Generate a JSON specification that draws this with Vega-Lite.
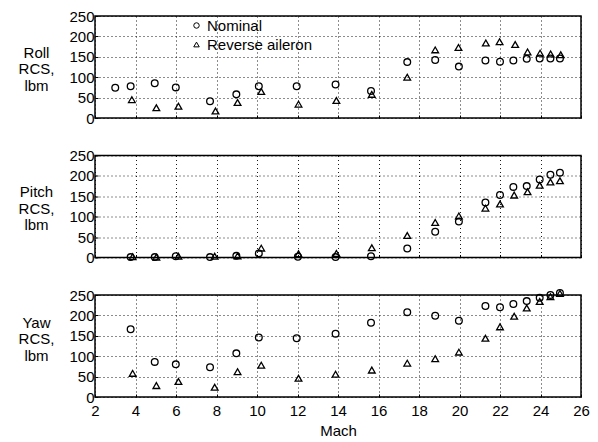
{
  "$schema": "https://vega.github.io/schema/vega-lite/v6.json",
  "padding": {"left": 17, "top": 8, "right": 5, "bottom": 5},
  "background": "white",
  "config": {
    "font": "Liberation Sans",
    "view": {"stroke": "black", "strokeWidth": 1.5},
    "axis": {
      "domain": false,
      "labelColor": "black",
      "labelFontSize": 15,
      "labelFont": "Liberation Sans",
      "titleFont": "Liberation Sans",
      "titleColor": "black",
      "titleFontSize": 15,
      "titleFontWeight": "normal",
      "gridColor": "black",
      "gridDash": [1, 3],
      "gridOpacity": 0.9,
      "gridWidth": 1,
      "tickColor": "black",
      "tickSize": -3,
      "labelFlush": false,
      "labelOverlap": false,
      "labelBound": false
    }
  },
  "datasets": {
    "rcs": [
      {"panel": "Roll", "series": "Nominal", "mach": 3.0, "rcs": 74},
      {"panel": "Roll", "series": "Nominal", "mach": 3.76, "rcs": 78},
      {"panel": "Roll", "series": "Nominal", "mach": 4.95, "rcs": 85},
      {"panel": "Roll", "series": "Nominal", "mach": 5.99, "rcs": 75},
      {"panel": "Roll", "series": "Nominal", "mach": 7.68, "rcs": 41},
      {"panel": "Roll", "series": "Nominal", "mach": 8.98, "rcs": 58},
      {"panel": "Roll", "series": "Nominal", "mach": 10.09, "rcs": 78},
      {"panel": "Roll", "series": "Nominal", "mach": 11.96, "rcs": 78},
      {"panel": "Roll", "series": "Nominal", "mach": 13.88, "rcs": 82},
      {"panel": "Roll", "series": "Nominal", "mach": 15.63, "rcs": 66},
      {"panel": "Roll", "series": "Nominal", "mach": 17.42, "rcs": 137},
      {"panel": "Roll", "series": "Nominal", "mach": 18.8, "rcs": 142},
      {"panel": "Roll", "series": "Nominal", "mach": 19.97, "rcs": 126},
      {"panel": "Roll", "series": "Nominal", "mach": 21.28, "rcs": 141},
      {"panel": "Roll", "series": "Nominal", "mach": 22.0, "rcs": 138},
      {"panel": "Roll", "series": "Nominal", "mach": 22.66, "rcs": 141},
      {"panel": "Roll", "series": "Nominal", "mach": 23.32, "rcs": 145},
      {"panel": "Roll", "series": "Nominal", "mach": 23.96, "rcs": 146},
      {"panel": "Roll", "series": "Nominal", "mach": 24.49, "rcs": 146},
      {"panel": "Roll", "series": "Nominal", "mach": 24.96, "rcs": 146},
      {"panel": "Roll", "series": "Reverse aileron", "mach": 3.82, "rcs": 45},
      {"panel": "Roll", "series": "Reverse aileron", "mach": 5.03, "rcs": 25},
      {"panel": "Roll", "series": "Reverse aileron", "mach": 6.12, "rcs": 29},
      {"panel": "Roll", "series": "Reverse aileron", "mach": 7.95, "rcs": 17},
      {"panel": "Roll", "series": "Reverse aileron", "mach": 9.04, "rcs": 38},
      {"panel": "Roll", "series": "Reverse aileron", "mach": 10.21, "rcs": 65},
      {"panel": "Roll", "series": "Reverse aileron", "mach": 12.05, "rcs": 34},
      {"panel": "Roll", "series": "Reverse aileron", "mach": 13.92, "rcs": 43},
      {"panel": "Roll", "series": "Reverse aileron", "mach": 15.67, "rcs": 58},
      {"panel": "Roll", "series": "Reverse aileron", "mach": 17.42, "rcs": 100},
      {"panel": "Roll", "series": "Reverse aileron", "mach": 18.8, "rcs": 167},
      {"panel": "Roll", "series": "Reverse aileron", "mach": 19.95, "rcs": 173},
      {"panel": "Roll", "series": "Reverse aileron", "mach": 21.3, "rcs": 184},
      {"panel": "Roll", "series": "Reverse aileron", "mach": 21.98, "rcs": 187},
      {"panel": "Roll", "series": "Reverse aileron", "mach": 22.75, "rcs": 180},
      {"panel": "Roll", "series": "Reverse aileron", "mach": 23.36, "rcs": 162},
      {"panel": "Roll", "series": "Reverse aileron", "mach": 23.98, "rcs": 159},
      {"panel": "Roll", "series": "Reverse aileron", "mach": 24.5, "rcs": 157},
      {"panel": "Roll", "series": "Reverse aileron", "mach": 25.0, "rcs": 155},
      {"panel": "Pitch", "series": "Nominal", "mach": 3.76, "rcs": 1},
      {"panel": "Pitch", "series": "Nominal", "mach": 4.95, "rcs": 1},
      {"panel": "Pitch", "series": "Nominal", "mach": 5.99, "rcs": 3},
      {"panel": "Pitch", "series": "Nominal", "mach": 7.68, "rcs": 1},
      {"panel": "Pitch", "series": "Nominal", "mach": 8.98, "rcs": 4},
      {"panel": "Pitch", "series": "Nominal", "mach": 10.09, "rcs": 10},
      {"panel": "Pitch", "series": "Nominal", "mach": 12.02, "rcs": 2},
      {"panel": "Pitch", "series": "Nominal", "mach": 13.88, "rcs": 1},
      {"panel": "Pitch", "series": "Nominal", "mach": 15.63, "rcs": 3},
      {"panel": "Pitch", "series": "Nominal", "mach": 17.42, "rcs": 22},
      {"panel": "Pitch", "series": "Nominal", "mach": 18.8, "rcs": 63},
      {"panel": "Pitch", "series": "Nominal", "mach": 19.97, "rcs": 88},
      {"panel": "Pitch", "series": "Nominal", "mach": 21.28, "rcs": 135},
      {"panel": "Pitch", "series": "Nominal", "mach": 22.0, "rcs": 153},
      {"panel": "Pitch", "series": "Nominal", "mach": 22.66, "rcs": 173},
      {"panel": "Pitch", "series": "Nominal", "mach": 23.32, "rcs": 175},
      {"panel": "Pitch", "series": "Nominal", "mach": 23.96, "rcs": 191},
      {"panel": "Pitch", "series": "Nominal", "mach": 24.49, "rcs": 203},
      {"panel": "Pitch", "series": "Nominal", "mach": 24.96, "rcs": 208},
      {"panel": "Pitch", "series": "Reverse aileron", "mach": 3.86, "rcs": 2},
      {"panel": "Pitch", "series": "Reverse aileron", "mach": 5.03, "rcs": 1},
      {"panel": "Pitch", "series": "Reverse aileron", "mach": 6.12, "rcs": 3},
      {"panel": "Pitch", "series": "Reverse aileron", "mach": 7.91, "rcs": 3},
      {"panel": "Pitch", "series": "Reverse aileron", "mach": 9.04, "rcs": 4},
      {"panel": "Pitch", "series": "Reverse aileron", "mach": 10.21, "rcs": 23},
      {"panel": "Pitch", "series": "Reverse aileron", "mach": 12.05, "rcs": 9},
      {"panel": "Pitch", "series": "Reverse aileron", "mach": 13.92, "rcs": 10},
      {"panel": "Pitch", "series": "Reverse aileron", "mach": 15.67, "rcs": 24},
      {"panel": "Pitch", "series": "Reverse aileron", "mach": 17.42, "rcs": 54},
      {"panel": "Pitch", "series": "Reverse aileron", "mach": 18.8, "rcs": 86},
      {"panel": "Pitch", "series": "Reverse aileron", "mach": 19.97, "rcs": 102},
      {"panel": "Pitch", "series": "Reverse aileron", "mach": 21.28, "rcs": 121},
      {"panel": "Pitch", "series": "Reverse aileron", "mach": 22.0, "rcs": 131},
      {"panel": "Pitch", "series": "Reverse aileron", "mach": 22.7, "rcs": 153},
      {"panel": "Pitch", "series": "Reverse aileron", "mach": 23.36, "rcs": 161},
      {"panel": "Pitch", "series": "Reverse aileron", "mach": 23.96, "rcs": 177},
      {"panel": "Pitch", "series": "Reverse aileron", "mach": 24.49, "rcs": 185},
      {"panel": "Pitch", "series": "Reverse aileron", "mach": 24.96, "rcs": 188},
      {"panel": "Yaw", "series": "Nominal", "mach": 3.76, "rcs": 166},
      {"panel": "Yaw", "series": "Nominal", "mach": 4.95, "rcs": 86},
      {"panel": "Yaw", "series": "Nominal", "mach": 5.99, "rcs": 80},
      {"panel": "Yaw", "series": "Nominal", "mach": 7.68, "rcs": 73},
      {"panel": "Yaw", "series": "Nominal", "mach": 8.98, "rcs": 107},
      {"panel": "Yaw", "series": "Nominal", "mach": 10.09, "rcs": 146},
      {"panel": "Yaw", "series": "Nominal", "mach": 11.96, "rcs": 144},
      {"panel": "Yaw", "series": "Nominal", "mach": 13.88, "rcs": 155},
      {"panel": "Yaw", "series": "Nominal", "mach": 15.63, "rcs": 182},
      {"panel": "Yaw", "series": "Nominal", "mach": 17.42, "rcs": 208},
      {"panel": "Yaw", "series": "Nominal", "mach": 18.8, "rcs": 199},
      {"panel": "Yaw", "series": "Nominal", "mach": 19.97, "rcs": 187},
      {"panel": "Yaw", "series": "Nominal", "mach": 21.28, "rcs": 223},
      {"panel": "Yaw", "series": "Nominal", "mach": 22.0, "rcs": 220},
      {"panel": "Yaw", "series": "Nominal", "mach": 22.66, "rcs": 228},
      {"panel": "Yaw", "series": "Nominal", "mach": 23.32, "rcs": 235},
      {"panel": "Yaw", "series": "Nominal", "mach": 23.96, "rcs": 243},
      {"panel": "Yaw", "series": "Nominal", "mach": 24.49, "rcs": 250},
      {"panel": "Yaw", "series": "Nominal", "mach": 24.96, "rcs": 255},
      {"panel": "Yaw", "series": "Reverse aileron", "mach": 3.86, "rcs": 58},
      {"panel": "Yaw", "series": "Reverse aileron", "mach": 5.03, "rcs": 28},
      {"panel": "Yaw", "series": "Reverse aileron", "mach": 6.12, "rcs": 38},
      {"panel": "Yaw", "series": "Reverse aileron", "mach": 7.91, "rcs": 24},
      {"panel": "Yaw", "series": "Reverse aileron", "mach": 9.04, "rcs": 62},
      {"panel": "Yaw", "series": "Reverse aileron", "mach": 10.21, "rcs": 78},
      {"panel": "Yaw", "series": "Reverse aileron", "mach": 12.05, "rcs": 46},
      {"panel": "Yaw", "series": "Reverse aileron", "mach": 13.88, "rcs": 56},
      {"panel": "Yaw", "series": "Reverse aileron", "mach": 15.67, "rcs": 66},
      {"panel": "Yaw", "series": "Reverse aileron", "mach": 17.42, "rcs": 83},
      {"panel": "Yaw", "series": "Reverse aileron", "mach": 18.8, "rcs": 94},
      {"panel": "Yaw", "series": "Reverse aileron", "mach": 19.97, "rcs": 110},
      {"panel": "Yaw", "series": "Reverse aileron", "mach": 21.28, "rcs": 144},
      {"panel": "Yaw", "series": "Reverse aileron", "mach": 22.0, "rcs": 172},
      {"panel": "Yaw", "series": "Reverse aileron", "mach": 22.7, "rcs": 198},
      {"panel": "Yaw", "series": "Reverse aileron", "mach": 23.32, "rcs": 218},
      {"panel": "Yaw", "series": "Reverse aileron", "mach": 23.96, "rcs": 234},
      {"panel": "Yaw", "series": "Reverse aileron", "mach": 24.49, "rcs": 246},
      {"panel": "Yaw", "series": "Reverse aileron", "mach": 24.96, "rcs": 254}
    ]
  },
  "data": {"name": "rcs"},
  "bounds": "flush",
  "spacing": 37.5,
  "vconcat": [
    {
      "width": 486,
      "height": 102,
      "transform": [{"filter": "datum.panel === 'Roll'"}],
      "mark": {"type": "point", "filled": false, "stroke": "black", "strokeWidth": 1.3, "size": 45, "opacity": 1, "clip": false},
      "encoding": {
        "x": {"field": "mach", "type": "quantitative", "scale": {"domain": [2, 26], "nice": false, "zero": false},
          "axis": {"values": [2, 4, 6, 8, 10, 12, 14, 16, 18, 20, 22, 24, 26], "labels": false, "title": null}},
        "y": {"field": "rcs", "type": "quantitative", "scale": {"domain": [0, 250], "nice": false},
          "axis": {"values": [0, 50, 100, 150, 200, 250], "labelPadding": 4,
            "title": ["Roll", "RCS,", "lbm"], "titleAngle": 0, "titleAlign": "center", "titleBaseline": "middle",
            "titleX": -59, "titleY": 36, "titleLineHeight": 16.5}},
        "shape": {"field": "series", "type": "nominal",
          "scale": {"domain": ["Nominal", "Reverse aileron"], "range": ["circle", "triangle-up"]},
          "legend": {"orient": "none", "legendX": 94, "legendY": 2, "title": null, "padding": 0,
            "labelFontSize": 15, "labelColor": "black", "labelFont": "Liberation Sans", "symbolSize": 30,
            "symbolStrokeColor": "black", "symbolFillColor": "transparent", "symbolStrokeWidth": 1, "rowPadding": 3, "labelOffset": 3}}
      }
    },
    {
      "width": 486,
      "height": 102,
      "transform": [{"filter": "datum.panel === 'Pitch'"}],
      "mark": {"type": "point", "filled": false, "stroke": "black", "strokeWidth": 1.3, "size": 45, "opacity": 1, "clip": false},
      "encoding": {
        "x": {"field": "mach", "type": "quantitative", "scale": {"domain": [2, 26], "nice": false, "zero": false},
          "axis": {"values": [2, 4, 6, 8, 10, 12, 14, 16, 18, 20, 22, 24, 26], "labels": false, "title": null}},
        "y": {"field": "rcs", "type": "quantitative", "scale": {"domain": [0, 250], "nice": false},
          "axis": {"values": [0, 50, 100, 150, 200, 250], "labelPadding": 4,
            "title": ["Pitch", "RCS,", "lbm"], "titleAngle": 0, "titleAlign": "center", "titleBaseline": "middle",
            "titleX": -59, "titleY": 36, "titleLineHeight": 16.5}},
        "shape": {"field": "series", "type": "nominal",
          "scale": {"domain": ["Nominal", "Reverse aileron"], "range": ["circle", "triangle-up"]},
          "legend": {"orient": "none", "legendX": 94, "legendY": 2, "title": null, "padding": 0,
            "labelFontSize": 15, "labelColor": "black", "labelFont": "Liberation Sans", "symbolSize": 30,
            "symbolStrokeColor": "black", "symbolFillColor": "transparent", "symbolStrokeWidth": 1, "rowPadding": 3, "labelOffset": 3}}
      }
    },
    {
      "width": 486,
      "height": 102,
      "transform": [{"filter": "datum.panel === 'Yaw'"}],
      "mark": {"type": "point", "filled": false, "stroke": "black", "strokeWidth": 1.3, "size": 45, "opacity": 1, "clip": false},
      "encoding": {
        "x": {"field": "mach", "type": "quantitative", "scale": {"domain": [2, 26], "nice": false, "zero": false},
          "axis": {"values": [2, 4, 6, 8, 10, 12, 14, 16, 18, 20, 22, 24, 26], "labelPadding": 9, "title": "Mach", "titlePadding": 5}},
        "y": {"field": "rcs", "type": "quantitative", "scale": {"domain": [0, 250], "nice": false},
          "axis": {"values": [0, 50, 100, 150, 200, 250], "labelPadding": 4,
            "title": ["Yaw", "RCS,", "lbm"], "titleAngle": 0, "titleAlign": "center", "titleBaseline": "middle",
            "titleX": -59, "titleY": 27, "titleLineHeight": 16.5}},
        "shape": {"field": "series", "type": "nominal",
          "scale": {"domain": ["Nominal", "Reverse aileron"], "range": ["circle", "triangle-up"]},
          "legend": {"orient": "none", "legendX": 94, "legendY": 2, "title": null, "padding": 0,
            "labelFontSize": 15, "labelColor": "black", "labelFont": "Liberation Sans", "symbolSize": 30,
            "symbolStrokeColor": "black", "symbolFillColor": "transparent", "symbolStrokeWidth": 1, "rowPadding": 3, "labelOffset": 3}}
      }
    }
  ]
}
